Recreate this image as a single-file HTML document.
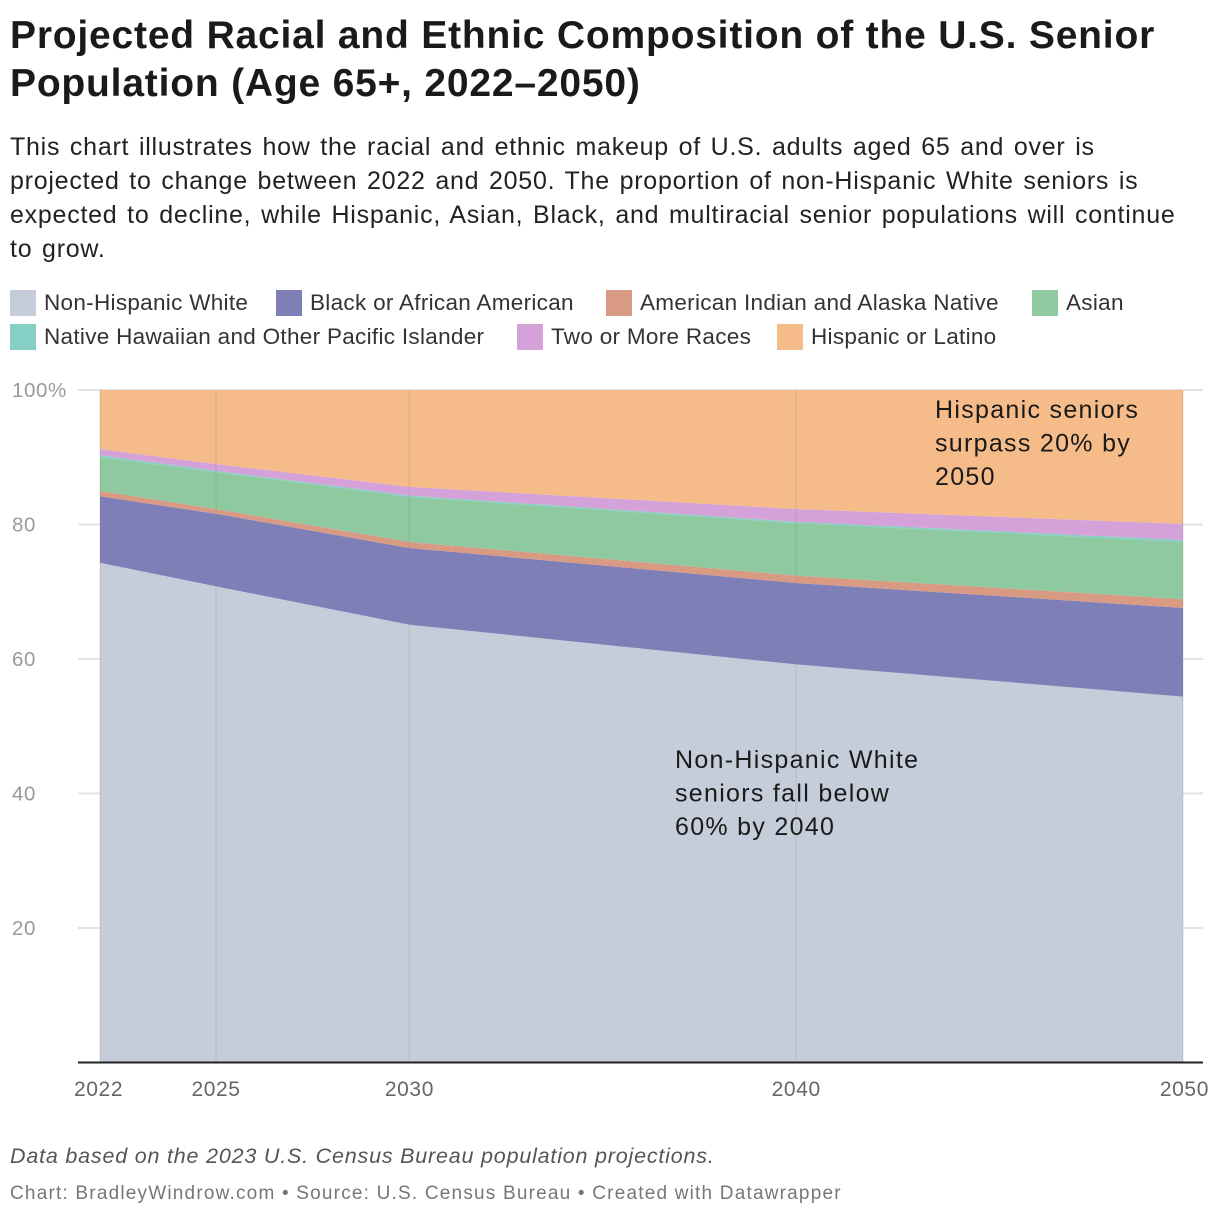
<!DOCTYPE html>
<html><head><meta charset="utf-8">
<style>
body{margin:0;width:1220px;height:1218px;background:#fff;font-family:"Liberation Sans",Arial,sans-serif;position:relative;overflow:hidden;color:#1a1a1a}
.title{position:absolute;left:10px;top:12px;width:1210px;font-size:39px;font-weight:bold;line-height:48px;letter-spacing:0.8px;white-space:nowrap}
.desc{position:absolute;left:10px;top:130px;width:1210px;font-size:25px;line-height:34px;color:#222;letter-spacing:0.75px;word-spacing:2px;white-space:nowrap}
.legend{position:absolute;left:10px;top:288px;width:1200px;font-size:22.5px;color:#333;letter-spacing:0.3px}
.li{position:absolute;white-space:nowrap;line-height:30px}
.sw{display:inline-block;width:26px;height:26px;vertical-align:-6px;margin-right:8px}
.note{position:absolute;left:10px;top:1144px;font-size:21.5px;font-style:italic;color:#555;letter-spacing:0.8px}
.cred{position:absolute;left:10px;top:1183px;font-size:19px;color:#777;letter-spacing:1.2px}
svg{position:absolute;left:0;top:0}
</style></head><body>
<div class="title">Projected Racial and Ethnic Composition of the U.S. Senior<br>Population (Age 65+, 2022–2050)</div>
<div class="desc">This chart illustrates how the racial and ethnic makeup of U.S. adults aged 65 and over is<br>projected to change between 2022 and 2050. The proportion of non-Hispanic White seniors is<br>expected to decline, while Hispanic, Asian, Black, and multiracial senior populations will continue<br>to grow.</div>
<div class="legend">
<div class="li" style="left:0;top:0"><span class="sw" style="background:#c4cdd9"></span>Non-Hispanic White</div>
<div class="li" style="left:266px;top:0"><span class="sw" style="background:#7f7fb7"></span>Black or African American</div>
<div class="li" style="left:596px;top:0"><span class="sw" style="background:#d99a84"></span>American Indian and Alaska Native</div>
<div class="li" style="left:1022px;top:0"><span class="sw" style="background:#8ec9a0"></span>Asian</div>
<div class="li" style="left:0;top:34px"><span class="sw" style="background:#85cfc4"></span>Native Hawaiian and Other Pacific Islander</div>
<div class="li" style="left:507px;top:34px"><span class="sw" style="background:#d4a1d8"></span>Two or More Races</div>
<div class="li" style="left:767px;top:34px"><span class="sw" style="background:#f5bb89"></span>Hispanic or Latino</div>
</div>
<svg id="chart" width="1220" height="1218"></svg>
<div class="note">Data based on the 2023 U.S. Census Bureau population projections.</div>
<div class="cred">Chart: BradleyWindrow.com • Source: U.S. Census Bureau • Created with Datawrapper</div>
<script>
const years=[2022,2025,2030,2040,2050];
const seriesNames=["Non-Hispanic White","Black or African American","American Indian and Alaska Native","Asian","Native Hawaiian and Other Pacific Islander","Two or More Races","Hispanic or Latino"];
const white=[74.3,70.8,65.1,59.2,54.4];
const black=[9.9,10.8,11.4,12.1,13.2];
const aian=[0.8,0.7,0.9,1.1,1.3];
const asian=[5.0,5.5,6.7,7.8,8.5];
const nhpi=[0.3,0.2,0.2,0.2,0.3];
const twoPlus=[0.9,1.0,1.3,1.9,2.4];
const hispanic=[8.8,11.0,14.4,17.7,19.9];
const yTicks=[20,40,60,80,100];
const yTickLabels=["20","40","60","80","100%"];
const xTickLabels=["2022","2025","2030","2040","2050"];

const NS="http://www.w3.org/2000/svg";
const svg=document.getElementById('chart');
const x=y=>100+(y-2022)*(1183-100)/28;
const yS=v=>1062.5-v*6.725;
function mk(t,a){const e=document.createElementNS(NS,t);for(const k in a)e.setAttribute(k,a[k]);svg.appendChild(e);return e;}
yTicks.forEach((t,i)=>{
  const g=mk('line',{x1:78,x2:1203,y1:yS(t),y2:yS(t),stroke:'#e3e3e3','stroke-width':2});
  
  
  const l=mk('text',{x:12,y:yS(t)+7,'font-size':20.5,fill:'#9a9a9a','font-family':'Liberation Sans, sans-serif','letter-spacing':0.6});
  l.textContent=yTickLabels[i];
  
  
});
const series=[white,black,aian,asian,nhpi,twoPlus,hispanic];
const colors=['#c4cdd9','#7f7fb7','#d99a84','#8ec9a0','#85cfc4','#d4a1d8','#f5bb89'];
const keys=['white','black','aian','asian','nhpi','two-or-more','hispanic'];
let base=years.map(()=>0);
series.forEach((s,si)=>{
  const top=base.map((b,i)=>b+s[i]);
  let d='M'+years.map((yr,i)=>x(yr)+','+yS(top[i])).join(' L');
  for(let i=years.length-1;i>=0;i--) d+=' L'+x(years[i])+','+yS(base[i]);
  d+='Z';
  const p=mk('path',{d:d,fill:colors[si]});
  
  
  base=top;
});
years.forEach((yr,i)=>{
  const v=mk('line',{x1:x(yr),x2:x(yr),y1:390,y2:1062,stroke:'rgba(120,120,130,0.12)','stroke-width':2});
  
  
  const l=mk('text',{x:x(yr),y:1096,'font-size':21,fill:'#666','text-anchor':'middle','font-family':'Liberation Sans, sans-serif','letter-spacing':0.6});
  if(i===years.length-1){l.setAttribute('text-anchor','end');l.setAttribute('x',x(yr)+26);}
  if(i===0){l.setAttribute('text-anchor','start');l.setAttribute('x',x(yr)-26);}
  l.textContent=xTickLabels[i];
  
  
});
const ax=mk('line',{x1:78,x2:1203,y1:1062.5,y2:1062.5,stroke:'#222','stroke-width':2});


function ann(lines,x0,y0,name){
  const t=mk('text',{x:x0,y:y0,'font-size':25,fill:'#1a1a1a','font-family':'Liberation Sans, sans-serif','letter-spacing':1.3});
  
  
  lines.forEach((s,i)=>{const ts=document.createElementNS(NS,'tspan');ts.setAttribute('x',x0);ts.setAttribute('dy',i?33.5:0);ts.textContent=s;t.appendChild(ts);});
}
ann(["Hispanic seniors","surpass 20% by","2050"],935,418,'annotation-hispanic');
ann(["Non-Hispanic White","seniors fall below","60% by 2040"],675,768,'annotation-white');
</script>
</body></html>
